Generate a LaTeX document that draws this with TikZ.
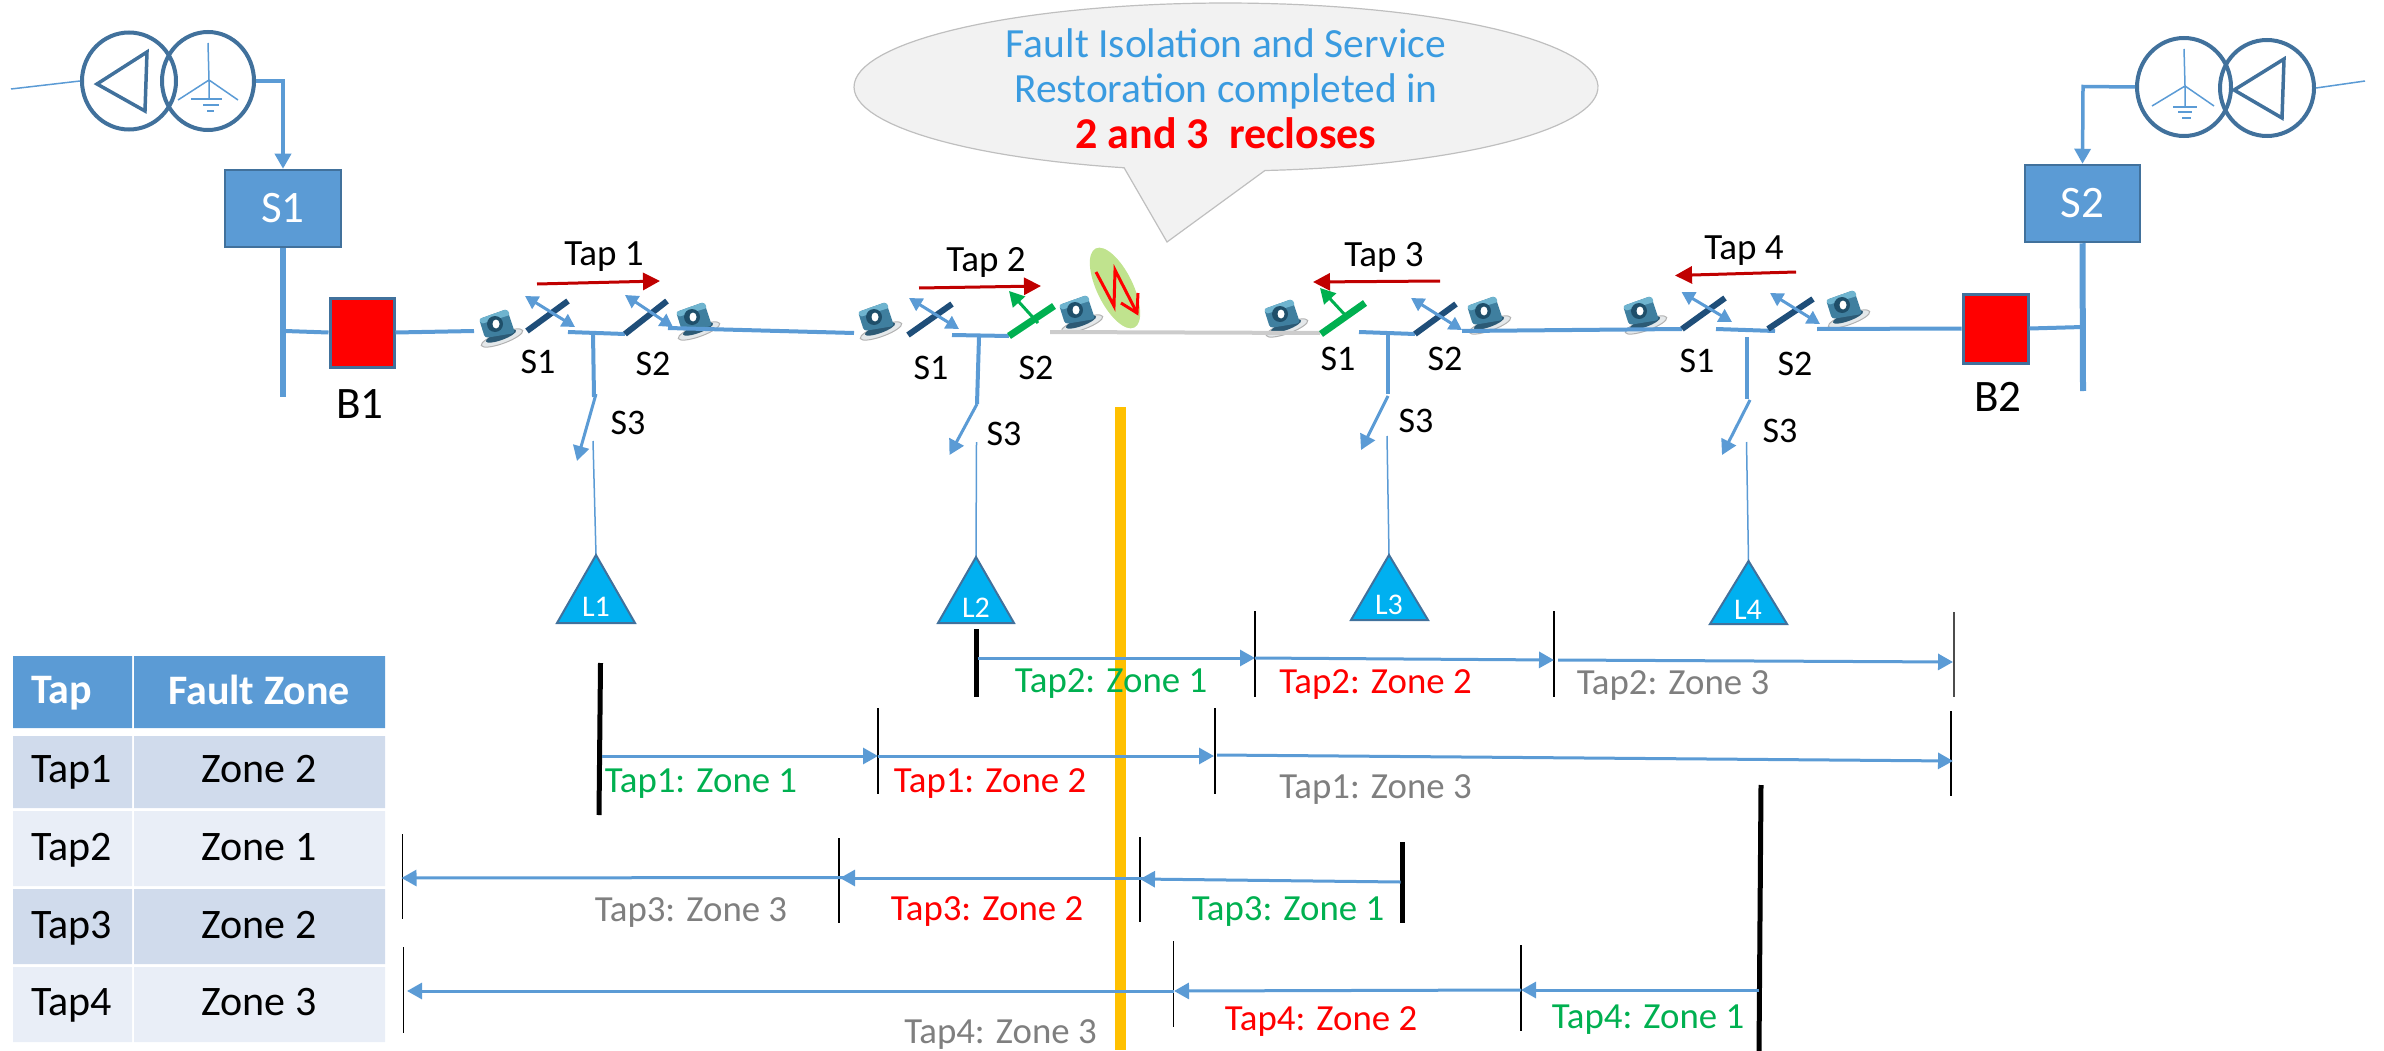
\documentclass[tikz,border=0pt]{standalone}
\usepackage{fontspec}
\setmainfont{Carlito}
\usetikzlibrary{arrows.meta,calc,shapes.geometric}
\definecolor{lineblue}{HTML}{5B9BD5}
\definecolor{edgeblue}{HTML}{41719C}
\definecolor{barblue}{HTML}{1F4E79}
\definecolor{loadblue}{HTML}{00B0F0}
\definecolor{tapred}{HTML}{C00000}
\definecolor{okgreen}{HTML}{00B050}
\definecolor{zonegrey}{HTML}{7F7F7F}
\definecolor{calloutfill}{HTML}{F2F2F2}
\definecolor{calloutedge}{HTML}{BFBFBF}
\definecolor{calltext}{HTML}{3A9BE0}
\definecolor{rowa}{HTML}{D0DBEC}
\definecolor{rowb}{HTML}{E9EEF7}
\definecolor{markgold}{HTML}{FFC000}
\definecolor{faultgreen}{HTML}{C0E38E}
\definecolor{camring}{HTML}{E4E8EA}
\definecolor{cambody}{HTML}{3F7F9F}
\definecolor{camtop}{HTML}{6FB4CF}
\definecolor{camhole}{HTML}{1F4F6A}
\definecolor{camfoot}{HTML}{2C5A75}
\newcommand{\fpx}[1]{\fontsize{#1}{#1}\selectfont}
\tikzset{
  feeder/.style={draw=lineblue,line width=4pt},
  busbar/.style={draw=lineblue,line width=6pt},
  thinfeed/.style={draw=lineblue,line width=1.5pt},
  tipped/.style={-{Triangle[length=15pt,width=16pt]}},
  bothtip/.style={draw=lineblue,line width=3pt,{Triangle[length=13pt,width=14pt]}-{Triangle[length=13pt,width=14pt]}},
  zonearrow/.style={draw=lineblue,line width=3pt,-{Triangle[length=15pt,width=16pt]}},
  openbar/.style={draw=barblue,line width=6pt},
  greenbar/.style={draw=okgreen,line width=7pt},
  greenarrow/.style={draw=okgreen,line width=3pt,-{Triangle[length=15pt,width=16pt]}},
  taparrow/.style={draw=tapred,line width=3pt,-{Triangle[length=17pt,width=17pt]}},
  xfmr/.style={draw=edgeblue,line width=4pt},
  xfmrthin/.style={draw=lineblue,line width=1.5pt},
  stationbox/.style={draw=edgeblue,line width=2.5pt,fill=lineblue,text=white,inner sep=0pt,font=\fpx{45}},
  breakerbox/.style={draw=edgeblue,line width=3pt,fill=red,inner sep=0pt},
  loadtri/.style={draw=edgeblue,line width=2pt,fill=loadblue,line join=miter},
  loadtext/.style={text=white,font=\fpx{30},inner sep=0pt},
  sw/.style={font=\fpx{36},inner sep=0pt},
  tapname/.style={font=\fpx{37},inner sep=0pt,yshift=-1.5pt},
  tick/.style={draw=black,line width=1.5pt},
  origin/.style={draw=black,line width=5pt},
  zonetext/.style={font=\fpx{36.8},inner sep=0pt,yshift=-2pt},
  cellhead/.style={font=\fpx{42}\bfseries,text=white,inner sep=0pt},
  cell/.style={font=\fpx{42},text=black,inner sep=0pt},
  celltap/.style={cell,anchor=west,yshift=-3pt},
  cam/.pic={
    \fill[camring,draw=gray!60,line width=1pt,shift={(4,11)},rotate=20] (0,0) ellipse (22 and 5.5);
    \fill[camfoot,shift={(3,9)},rotate=20] (0,0) ellipse (16 and 4);
    \fill[rounded corners=3pt,fill=cambody] (-19,-8)--(9,-18)--(17,6)--(-13,11)--cycle;
    \fill[fill=camtop,rounded corners=2pt] (-19,-8)--(9,-18)--(12,-12)--(-17,-3)--cycle;
    \fill[fill=camhole] (-3,-3) circle (8);
    \fill[white] (-2,-3) ellipse (3.5 and 4.5);
  }
}
\begin{document}
\begin{tikzpicture}[x=1pt,y=-1pt]
\useasboundingbox (0,0) rectangle (2384,1051);

% ---------- cameras
\foreach \cx/\cy in {498/327,695/320,877/320,1078/313,1283/317,1486/314,1642/314,1845/308}
  \path (\cx,\cy) pic {cam};

% ---------- left transformer
\node[xfmr,ellipse,minimum width=94pt,minimum height=97pt,inner sep=0pt] (tl1) at (129,81) {};
\node[xfmr,ellipse,minimum width=92pt,minimum height=98pt,inner sep=0pt] (tl2) at (208,81) {};
\draw[xfmr,line width=3.5pt,line join=miter] (97,84)--(147,52)--(145,111)--cycle;
\coordinate (tlc) at (209,80);
\draw[xfmrthin] (208,43)--(tlc)--(178,100) (tlc)--(238,100) (tlc)--(209,99);
\draw[xfmrthin] (191,99)--(222,99) (203,105)--(219,105) (207,111)--(214,111);
\coordinate (tlin) at (11,89);
\draw[thinfeed] (tlin)--(tl1.west);
% ---------- right transformer
\node[xfmr,ellipse,minimum width=94pt,minimum height=98pt,inner sep=0pt] (tr1) at (2184,87) {};
\node[xfmr,ellipse,minimum width=94pt,minimum height=96pt,inner sep=0pt] (tr2) at (2267,88) {};
\draw[xfmr,line width=3.5pt,line join=miter] (2234,90)--(2284,59)--(2282,118)--cycle;
\coordinate (trc) at (2185,86);
\draw[xfmrthin] (2184,49)--(trc)--(2152,106) (trc)--(2214,106) (trc)--(2185,106);
\draw[xfmrthin] (2173,107)--(2197,107) (2178,112)--(2192,112) (2182,118)--(2191,118);
\coordinate (trin) at (2365,81);
\draw[thinfeed] (trin)--(tr2.east);

% ---------- stations and breakers
\node[stationbox,minimum width=116pt,minimum height=77pt] (S1) at (283,208.5) {S1};
\node[stationbox,minimum width=115pt,minimum height=77pt] (S2) at (2082.5,203.5) {S2};
\node[breakerbox,minimum width=64pt,minimum height=69pt] (B1) at (362,332.5) {};
\node[breakerbox,minimum width=65pt,minimum height=69pt] (B2) at (1995.5,328.5) {};
\node[font=\fpx{45},inner sep=0pt] (B1t) at (360,404) {B1};
\node[font=\fpx{45},inner sep=0pt] (B2t) at (1998,397) {B2};
\draw[feeder,tipped,line width=3.5pt] (tl2.east) -- (283,81) -- (S1.north);
\draw[feeder,tipped,line width=3.5pt] (tr1.west) -- (2083,86.5) -- (S2.north);
\coordinate (bus1) at (283,397);
\coordinate (bus2) at (2083,391);
\draw[busbar] (S1.south)--(bus1);
\draw[busbar] (S2.south)--(bus2);
\coordinate (j1) at (285,331);
\coordinate (j2) at (2083,327);
\draw[feeder] (j1)--(B1.west);
\draw[feeder] (B2.east)--(j2);

% ---------- tap 1 group
\coordinate (a1) at (474,331);
\draw[feeder] (B1.east)--(a1);
\coordinate (a2) at (527,331); \coordinate (a3) at (568,301);
\draw[openbar] (a2)--(a3);
\draw[bothtip] (525,296)--(575,327);
\coordinate (a4) at (568,332); \coordinate (a5) at (625,334);
\draw[feeder] (a4)--(a5);
\coordinate (a6) at (667,301);
\draw[openbar] (a5)--(a6);
\draw[bothtip] (625,295)--(673,327);
\coordinate (a7) at (668,328); \coordinate (a8) at (854,333);
\draw[feeder] (a7)--(a8);
\draw[feeder] (593,333)--(594,397);
\draw[feeder,line width=3pt,tipped] (596,394)--(577,461);
\coordinate (l1top) at (596,555);
\draw[thinfeed] (593,441)--(l1top);
\draw[loadtri] (l1top)--(557,623)--(635,623)--cycle;
\node[loadtext] (L1) at (596,607) {L1};
\node[sw] (t1s1) at (538,362) {S1};
\node[sw] (t1s2) at (653,364) {S2};
\node[sw] (t1s3) at (628,423) {S3};
\node[tapname] (tap1) at (604,255) {Tap 1};
\draw[taparrow] (537,284)--(660,281);

% ---------- tap 2 group
\draw[openbar] (908,335)--(952,304);
\draw[bothtip] (909,298)--(959,329);
\coordinate (b1) at (952,335); \coordinate (b2) at (1009,336);
\draw[feeder] (b1)--(b2);
\coordinate (b3) at (1054,306);
\draw[greenbar] (b2)--(b3);
\draw[greenarrow] (1038,323)--(1009,291);
\draw[feeder] (979,337)--(977,404);
\draw[feeder,line width=3pt,tipped] (977,404)--(949.5,455);
\coordinate (l2top) at (976,557);
\draw[thinfeed] (976.5,442)--(l2top);
\draw[loadtri] (l2top)--(938,623)--(1014,623)--cycle;
\node[loadtext] (L2) at (976,608) {L2};
\node[sw] (t2s1) at (931,368) {S1};
\node[sw] (t2s2) at (1036,368) {S2};
\node[sw] (t2s3) at (1004,434) {S3};
\node[tapname] (tap2) at (986,261) {Tap 2};
\draw[taparrow] (919,288)--(1041,286);

% ---------- fault and dead section
\coordinate (d1) at (1050,332); \coordinate (d2) at (1320,333);
\draw[draw=black!20,line width=4pt] (d1)--(d2);
\fill[faultgreen,rotate around={26:(1115,288)}] (1115,288) ellipse (18 and 44);
\draw[red,line width=3pt,line join=miter] (1096,272)--(1114,306)--(1115,270)--(1137,313);
\draw[red,line width=3pt] (1121,303)--(1137,313)--(1138,293);

% ---------- tap 3 group
\coordinate (c1) at (1321,334); \coordinate (c2) at (1365,303);
\draw[greenbar] (c1)--(c2);
\draw[greenarrow] (1346,316)--(1320,288);
\coordinate (c3) at (1359,332); \coordinate (c4) at (1415,334);
\draw[feeder] (c3)--(c4);
\draw[openbar] (c4)--(1456,304);
\draw[bothtip] (1411,298)--(1462,330);
\coordinate (c5) at (1462,331); \coordinate (c6) at (1682,329);
\draw[feeder] (c5)--(c6);
\draw[feeder] (1388,333)--(1388,394);
\draw[feeder,line width=3pt,tipped] (1388,396)--(1361,450);
\coordinate (l3top) at (1389,555);
\draw[thinfeed] (1387,436)--(l3top);
\draw[loadtri] (l3top)--(1351,620)--(1428,620)--cycle;
\node[loadtext] (L3) at (1389,605) {L3};
\node[sw] (t3s1) at (1338,359) {S1};
\node[sw] (t3s2) at (1445,359) {S2};
\node[sw] (t3s3) at (1416,421) {S3};
\node[tapname] (tap3) at (1384,256) {Tap 3};
\draw[taparrow] (1440,281)--(1313,282);

% ---------- tap 4 group
\draw[openbar] (c6)--(1725,298);
\draw[bothtip] (1681.5,292)--(1732,322);
\coordinate (e1) at (1716,329); \coordinate (e2) at (1775,331);
\draw[feeder] (e1)--(e2);
\draw[openbar] (1768,329)--(1813,299);
\draw[bothtip] (1770,293)--(1820,324);
\coordinate (e3) at (1817,329);
\draw[feeder] (e3)--(B2.west);
\draw[feeder] (1746.5,337)--(1746.5,399);
\draw[feeder,line width=3pt,tipped] (1750,400)--(1722,455);
\coordinate (l4top) at (1748.5,561);
\draw[thinfeed] (1746.5,442)--(l4top);
\draw[loadtri] (l4top)--(1710,624)--(1787,624)--cycle;
\node[loadtext] (L4) at (1748,610) {L4};
\node[sw] (t4s1) at (1697,361) {S1};
\node[sw] (t4s2) at (1795,364) {S2};
\node[sw] (t4s3) at (1780,431) {S3};
\node[tapname] (tap4) at (1744,249) {Tap 4};
\draw[taparrow] (1796,272)--(1675,275.5);

% ---------- callout
\draw[fill=calloutfill,draw=calloutedge,line width=1.2pt]
  plot[domain=105.9:444,samples=120,variable=\t] ({1226+372*cos(\t)},{87+84*sin(\t)})
  -- (1167,242) -- cycle;
\node[font=\fpx{41.5},text=calltext,inner sep=0pt] (c1t) at (1226,43) {Fault Isolation and Service};
\node[font=\fpx{41.5},text=calltext,inner sep=0pt,yshift=-3pt] (c2t) at (1226,88) {Restoration completed in};
\node[font=\fpx{44}\bfseries,text=red,inner sep=0pt] (c3t) at (1226,133.5) {2 and 3\ \ recloses};

% ---------- fault marker line
\coordinate (mk1) at (1120.5,407); \coordinate (mk2) at (1120.5,1050);
\draw[draw=markgold,line width=10.5pt] (mk1)--(mk2);

% ---------- zone lines: tap 2
\coordinate (t2o1) at (976,629); \coordinate (t2o2) at (976,697);
\draw[origin] (t2o1)--(t2o2);
\coordinate (t2k1a) at (1255,611); \coordinate (t2k1b) at (1255,697);
\coordinate (t2k2a) at (1554,611); \coordinate (t2k2b) at (1554,697);
\coordinate (t2k3a) at (1954,612); \coordinate (t2k3b) at (1954,697);
\draw[tick] (t2k1a)--(t2k1b); \draw[tick] (t2k2a)--(t2k2b);
\draw[tick,draw=black!70,line width=2pt] (t2k3a)--(t2k3b);
\draw[zonearrow] (977.5,658)--(1255,658);
\draw[zonearrow] (1255,658)--(1554,660);
\draw[zonearrow] (1558,660)--(1953,662);
\node[zonetext,text=okgreen] (z21) at (1111,682) {Tap2: Zone 1};
\node[zonetext,text=red] (z22) at (1375.5,683) {Tap2: Zone 2};
\node[zonetext,text=zonegrey] (z23) at (1673,684) {Tap2: Zone 3};

% ---------- zone lines: tap 1
\coordinate (t1o1) at (600.5,663); \coordinate (t1o2) at (599,815);
\draw[origin] (t1o1)--(t1o2);
\coordinate (t1k1a) at (878,708); \coordinate (t1k1b) at (878,794);
\coordinate (t1k2a) at (1215,708); \coordinate (t1k2b) at (1215,794);
\coordinate (t1k3a) at (1951,711); \coordinate (t1k3b) at (1951,796);
\draw[tick] (t1k1a)--(t1k1b); \draw[tick] (t1k2a)--(t1k2b); \draw[tick] (t1k3a)--(t1k3b);
\draw[zonearrow] (602,756)--(878,756);
\draw[zonearrow] (878,756)--(1214,756);
\draw[zonearrow] (1217,755)--(1953,761);
\node[zonetext,text=okgreen] (z11) at (701,782) {Tap1: Zone 1};
\node[zonetext,text=red] (z12) at (990,782) {Tap1: Zone 2};
\node[zonetext,text=zonegrey] (z13) at (1375.5,788) {Tap1: Zone 3};

% ---------- zone lines: tap 3
\coordinate (t3o1) at (1402,842); \coordinate (t3o2) at (1402,923);
\draw[origin] (t3o1)--(t3o2);
\coordinate (t3k1a) at (1140,837); \coordinate (t3k1b) at (1140,922);
\coordinate (t3k2a) at (839,838); \coordinate (t3k2b) at (839,923);
\coordinate (t3k3a) at (402.5,834); \coordinate (t3k3b) at (402.5,919);
\draw[tick] (t3k1a)--(t3k1b); \draw[tick] (t3k2a)--(t3k2b); \draw[tick] (t3k3a)--(t3k3b);
\draw[zonearrow] (1400.5,882)--(1140,879);
\draw[zonearrow] (1145,878)--(840,878);
\draw[zonearrow] (845,877.5)--(401.5,878);
\node[zonetext,text=okgreen] (z31) at (1288,910) {Tap3: Zone 1};
\node[zonetext,text=red] (z32) at (987,910) {Tap3: Zone 2};
\node[zonetext,text=zonegrey] (z33) at (691,911) {Tap3: Zone 3};

% ---------- zone lines: tap 4
\coordinate (t4o1) at (1761,785); \coordinate (t4o2) at (1759,1051);
\draw[origin] (t4o1)--(t4o2);
\coordinate (t4k1a) at (1521,945); \coordinate (t4k1b) at (1521,1031);
\coordinate (t4k2a) at (1173.5,941); \coordinate (t4k2b) at (1173.5,1027);
\coordinate (t4k3a) at (403.5,947); \coordinate (t4k3b) at (403.5,1033);
\draw[tick] (t4k1a)--(t4k1b); \draw[tick] (t4k2a)--(t4k2b); \draw[tick] (t4k3a)--(t4k3b);
\draw[zonearrow] (1759,990)--(1521,990);
\draw[zonearrow] (1521,990)--(1174,991);
\draw[zonearrow] (1174,991)--(407,991);
\node[zonetext,text=okgreen] (z41) at (1648,1018) {Tap4: Zone 1};
\node[zonetext,text=red] (z42) at (1321,1020) {Tap4: Zone 2};
\node[zonetext,text=zonegrey] (z43) at (1000.5,1033) {Tap4: Zone 3};

% ---------- table
\fill[lineblue] (13,656) rectangle (132,728) (134,656) rectangle (385,728);
\fill[rowa] (13,736) rectangle (132,808) (134,736) rectangle (385,808);
\fill[rowb] (13,811) rectangle (132,886) (134,811) rectangle (385,886);
\fill[rowa] (13,889) rectangle (132,964) (134,889) rectangle (385,964);
\fill[rowb] (13,967) rectangle (132,1042) (134,967) rectangle (385,1042);
\node[cellhead,anchor=west,yshift=-3pt] (h1) at (31,690) {Tap};
\node[cellhead] (h2) at (259,690) {Fault Zone};
\node[celltap] (r1a) at (31,769) {Tap1};
\node[cell] (r1b) at (259,769) {Zone 2};
\node[celltap] (r2a) at (31,847) {Tap2};
\node[cell] (r2b) at (259,847) {Zone 1};
\node[celltap] (r3a) at (31,925) {Tap3};
\node[cell] (r3b) at (259,925) {Zone 2};
\node[celltap] (r4a) at (31,1002) {Tap4};
\node[cell] (r4b) at (259,1002) {Zone 3};
\end{tikzpicture}
\end{document}
